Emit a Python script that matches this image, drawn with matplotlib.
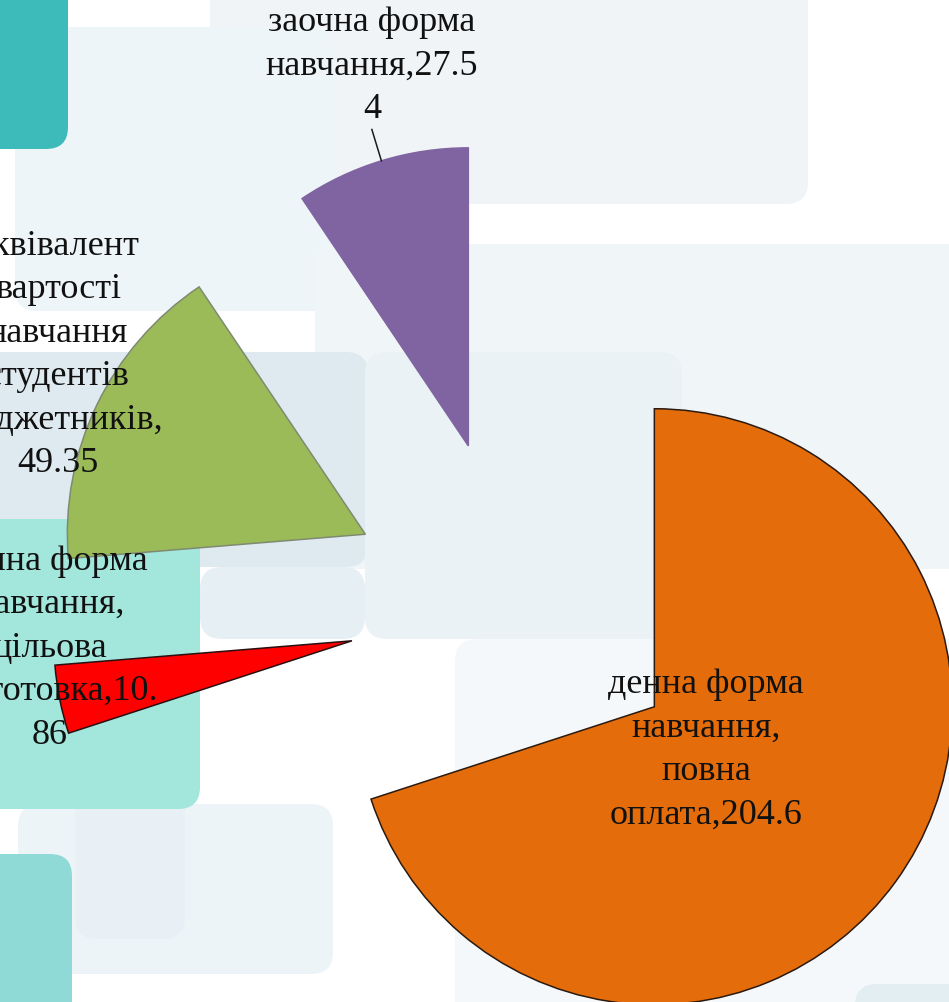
import numpy as np
import matplotlib.pyplot as plt
from matplotlib.patches import FancyBboxPatch

plt.rcParams['font.family'] = ['Liberation Serif', 'DejaVu Serif']

W, H = 949, 1003

categories = ['денна форма навчання, повна оплата',
              'денна форма навчання, цільова підготовка',
              'еквівалент вартості навчання студентів бюджетників',
              'заочна форма навчання']
values = [204.6, 10.86, 49.35, 27.54]
colors = ['#E46C0A', '#FF0000', '#9BBB59', '#8064A2']
edge_colors = ['#2a1a10', '#2a1010', '#7f8a70', '#8064A2']

# підписи так, як їх переніс PowerPoint
labels = ['денна форма\nнавчання,\nповна\nоплата,204.6',
          'денна форма\nнавчання,\nцільова\nпідготовка,10.\n86',
          'еквівалент\nвартості\nнавчання\nстудентів\nбюджетників,\n49.35',
          'заочна форма\nнавчання,27.5\n4']
label_xy = [(706, 750), (50, 648), (58, 355), (372, 66)]

# геометрія круга в пікселях (від лівого верхнього кута)
R = 298.0
cx, cy = 517.6, 608.5
vidsunennia = 0.567

fig = plt.figure(figsize=(W / 100, H / 100), dpi=100)
fig.patch.set_facecolor('white')

# фон слайду: заокруглені прямокутники
bg = fig.add_axes([0, 0, 1, 1], zorder=0)
bg.set_xlim(0, W)
bg.set_ylim(H, 0)
bg.axis('off')

def box(x0, y0, x1, y1, color, r=22, alpha=1.0):
    p = FancyBboxPatch((x0, y0), x1 - x0, y1 - y0,
                       boxstyle=f'round,pad=0,rounding_size={r}',
                       facecolor=color, edgecolor='none', alpha=alpha)
    bg.add_patch(p)

box(210, -30, 808, 205, '#F0F4F7')
box(15, 28, 335, 312, '#EEF5F8')
box(315, 245, 980, 570, '#F0F5F8')
box(-30, 353, 368, 568, '#DEEAF0')
box(365, 353, 682, 640, '#EAF2F5')
box(200, 568, 365, 640, '#E6EFF4')
box(455, 640, 980, 1030, '#F5F8FA')
box(18, 805, 333, 975, '#EDF4F7')
box(75, 690, 185, 940, '#E8F0F5')
box(-30, -30, 68, 150, '#3DBABA')
box(-30, 520, 200, 810, '#A2E6DC')
box(-30, 855, 72, 1030, '#8FDAD7')
box(855, 985, 1000, 1030, '#E3EEF3')

# кругова діаграма, одиниця = радіус
ax = fig.add_axes([0, 0, 1, 1], zorder=1)
ax.patch.set_alpha(0)
wedges, _ = ax.pie(values, colors=colors, startangle=90, counterclock=False,
                   radius=1, center=(0, 0), explode=[vidsunennia] * len(values),
                   wedgeprops=dict(linewidth=1.1))
for w, ec in zip(wedges, edge_colors):
    w.set_edgecolor(ec)
ax.set_xlim(-cx / R, (W - cx) / R)
ax.set_ylim(-(H - cy) / R, cy / R)
ax.set_aspect('equal', adjustable='box')
ax.axis('off')

# лінія-виноска до заочної форми
wp = wedges[3]
tm = np.deg2rad((wp.theta1 + wp.theta2) / 2)
x0, y0 = wp.center
ax.plot([x0 + np.cos(tm) * 1.0, x0 + np.cos(tm) * 1.11],
        [y0 + np.sin(tm) * 1.0, y0 + np.sin(tm) * 1.11],
        color='#1a1a1a', lw=1.1, zorder=4)

for lab, (lx, ly) in zip(labels, label_xy):
    ax.text(lx, ly, lab, transform=bg.transData, ha='center', va='center',
            multialignment='center', fontsize=26, linespacing=1.42,
            color='#111111', zorder=5)

fig.savefig('out.png', dpi=100)
